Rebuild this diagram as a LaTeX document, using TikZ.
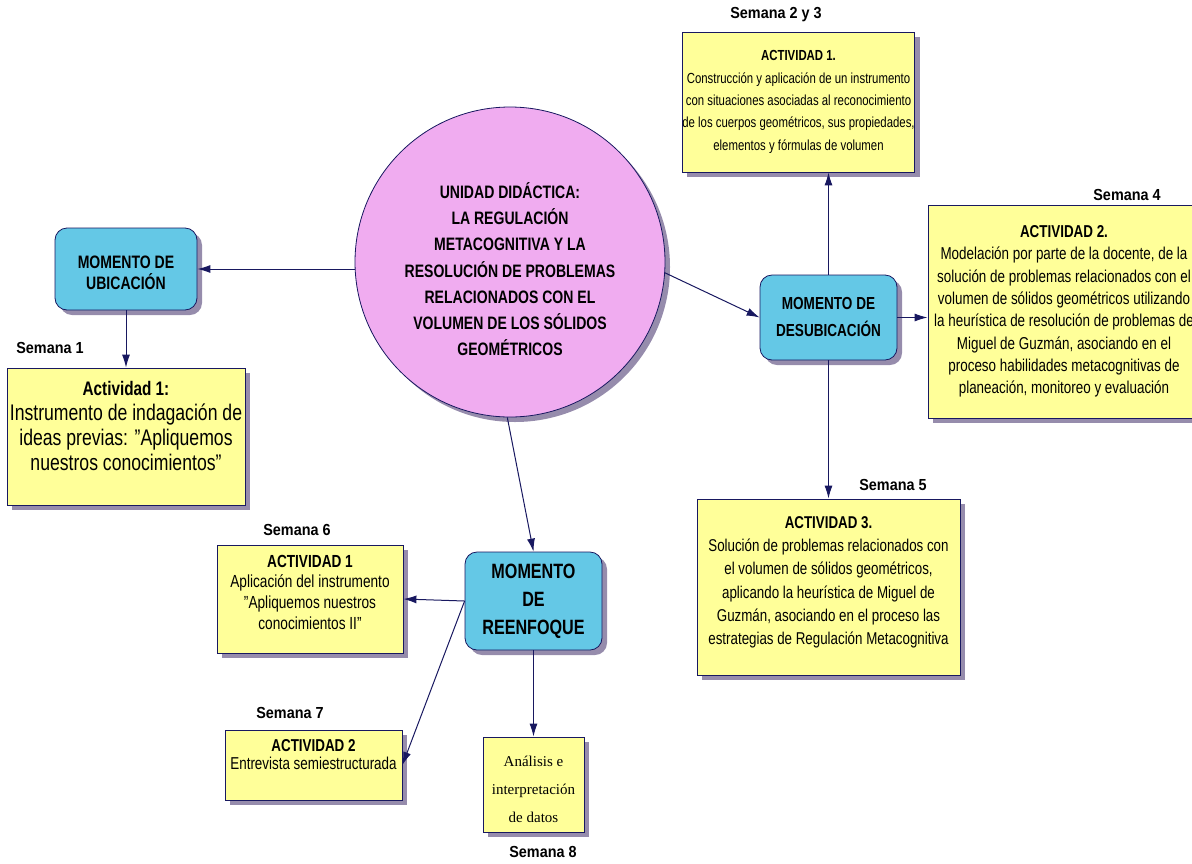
\documentclass[tikz,border=0pt]{standalone}
\usepackage{fontspec}
\setmainfont[FakeStretch=0.78]{Liberation Sans}
\newfontfamily\serifa{Liberation Serif}
\newfontfamily\semfont[FakeStretch=0.9]{Liberation Sans}
\usetikzlibrary{arrows.meta,shadows}
\definecolor{azulmom}{RGB}{100,200,230}
\definecolor{rosa}{RGB}{240,172,240}
\definecolor{amarillo}{RGB}{255,255,153}
\definecolor{marino}{RGB}{24,24,96}
\definecolor{sombra}{RGB}{150,140,172}
\newcommand{\fs}[2]{\fontsize{#1}{#2}\selectfont}
\begin{document}
\begin{tikzpicture}[x=1pt,y=-1pt,
  caja/.style={draw=marino,line width=0.8pt,fill=amarillo,align=center,inner sep=0pt,
    general shadow={fill=sombra,shadow xshift=5pt,shadow yshift=-5pt}},
  momento/.style={caja,fill=azulmom,rounded corners=12pt,font=\bfseries},
  semana/.style={font=\semfont\fs{16}{18}\bfseries},
  flecha/.style={draw=marino,line width=1pt,-{Latex[length=13pt,width=8pt]}}]
\useasboundingbox (0,0) rectangle (1192,863);
\node[caja,circle,fill=rosa,minimum size=310pt,text height=188pt,font=\fs{18}{26.3}\bfseries] (unidad) at (510,262)
  {UNIDAD DIDÁCTICA:\\ LA REGULACIÓN\\ METACOGNITIVA Y LA\\ RESOLUCIÓN DE PROBLEMAS\\ RELACIONADOS CON EL\\ VOLUMEN DE LOS SÓLIDOS\\ GEOMÉTRICOS};
\node[momento,minimum width=142pt,minimum height=82pt,text height=42pt,font=\fs{18}{21}\bfseries] (ubic) at (126,269) {MOMENTO DE\\ UBICACIÓN};
\node[momento,minimum width=137pt,minimum height=85pt,font=\fs{17.4}{27}\bfseries] (desub) at (828.5,317.5) {MOMENTO DE\\ DESUBICACIÓN};
\node[momento,minimum width=137pt,minimum height=98pt,font=\fs{20.7}{28}\bfseries] (reenf) at (533.5,601) {MOMENTO\\ DE\\ REENFOQUE};
\node[caja,minimum width=238pt,minimum height=137pt,text depth=22pt,font=\fs{22.6}{25}] (act1) at (126,436.5)
  {{\fs{19.6}{25}\bfseries Actividad 1:}\\ Instrumento de indagación de\\ ideas previas: "Apliquemos\\ nuestros conocimientos"};
\node[caja,minimum width=229pt,minimum height=140pt,font=\fs{14.6}{22.3}] (act1d) at (798.5,102)
  {{\bfseries ACTIVIDAD 1.}\\ Construcción y aplicación de un instrumento\\ con situaciones asociadas al reconocimiento\\ de los cuerpos geométricos, sus propiedades,\\ elementos y fórmulas de volumen};
\node[caja,minimum width=272pt,minimum height=213pt,font=\fs{17.2}{22.3}] (act2d) at (1064,311.5)
  {{\bfseries ACTIVIDAD 2.}\\ Modelación por parte de la docente, de la\\ solución de problemas relacionados con el\\ volumen de sólidos geométricos utilizando\\ la heurística de resolución de problemas de\\ Miguel de Guzmán, asociando en el\\ proceso habilidades metacognitivas de\\ planeación, monitoreo y evaluación};
\node[caja,minimum width=263pt,minimum height=176pt,text depth=13pt,font=\fs{17.1}{23.2}] (act3d) at (828.5,587)
  {{\bfseries ACTIVIDAD 3.}\\ Solución de problemas relacionados con\\ el volumen de sólidos geométricos,\\ aplicando la heurística de Miguel de\\ Guzmán, asociando en el proceso las\\ estrategias de Regulación Metacognitiva};
\node[caja,minimum width=186pt,minimum height=108pt,text depth=14pt,font=\fs{17.5}{20.7}] (act1r) at (310,599)
  {{\bfseries ACTIVIDAD 1}\\ Aplicación del instrumento\\ "Apliquemos nuestros\\ conocimientos II"};
\node[caja,minimum width=177pt,minimum height=70pt,text depth=22pt,font=\fs{17.2}{18}] (act2r) at (313.5,765)
  {{\bfseries ACTIVIDAD 2}\\ Entrevista semiestructurada};
\node[caja,minimum width=101pt,minimum height=95pt,text height=77pt,font=\serifa\fs{15}{28}] (analisis) at (533.5,784.5)
  {Análisis e\\ interpretación\\ de datos};
\node[semana] (s1) at (50,348) {Semana 1};
\node[semana] (s23) at (776,15) {Semana 2 y 3};
\node[semana] (s4) at (1127,195) {Semana 4};
\node[semana] (s5) at (893,485) {Semana 5};
\node[semana] (s6) at (297,530) {Semana 6};
\node[semana] (s7) at (290,713) {Semana 7};
\node[semana] (s8) at (543,852) {Semana 8};
\draw[flecha] (ubic.east -| unidad.west) -- (ubic.east);
\draw[flecha] (ubic) -- (act1);
\draw[flecha] (unidad.-4) -- (desub.west);
\draw[flecha] (desub.north) -- (desub.north |- act1d.south);
\draw[flecha] (desub.east) -- (desub.east -| act2d.west);
\draw[flecha] (desub) -- (act3d);
\draw[flecha] (unidad.-91) -- (reenf.north);
\draw[flecha] (reenf.west) -- (act1r.east);
\draw[flecha] (reenf.west) -- (act2r.east);
\draw[flecha] (reenf) -- (analisis);
\end{tikzpicture}
\end{document}
